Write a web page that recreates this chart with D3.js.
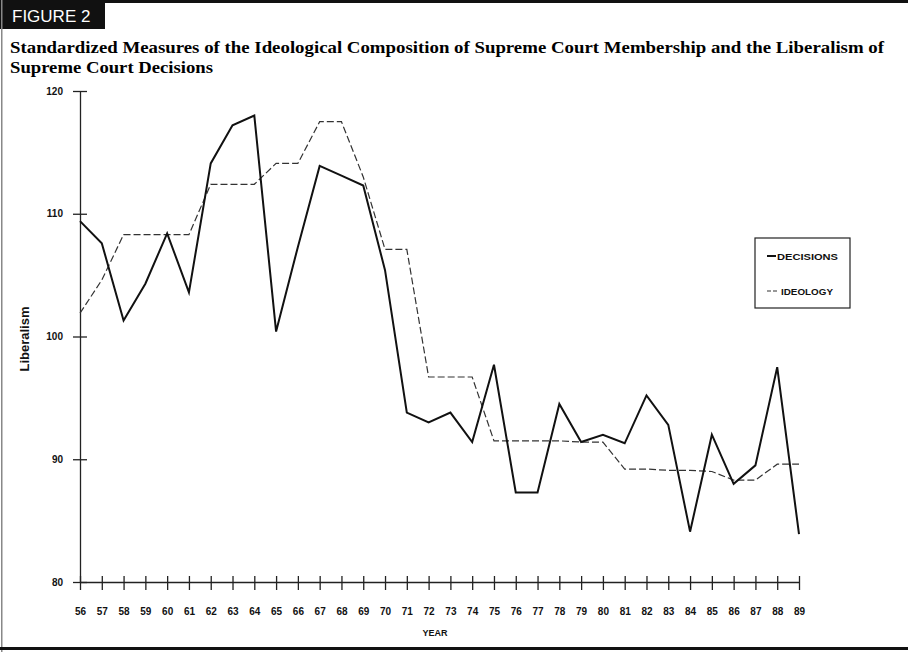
<!DOCTYPE html>
<html>
<head>
<meta charset="utf-8">
<script src="https://cdn.jsdelivr.net/npm/d3@7"></script>
<style>
  body { margin: 0; background: #fff; }
  svg { display: block; }
</style>
</head>
<body>
<div id="chart"></div>
<script>
const years = d3.range(56, 90);
// liberalism of decisions (solid line)
const decisions = [109.4, 107.6, 101.3, 104.3, 108.4, 103.6, 114.1, 117.2, 118.0, 100.4,
  107.3, 113.9, 113.1, 112.3, 105.4, 93.8, 93.0, 93.8, 91.4, 97.7,
  87.3, 87.3, 94.5, 91.4, 92.0, 91.3, 95.2, 92.8, 84.1, 92.0,
  88.0, 89.5, 97.5, 83.9];
// ideological composition (dashed line)
const ideology = [101.9, 104.6, 108.3, 108.3, 108.3, 108.3, 112.4, 112.4, 112.4, 114.1,
  114.1, 117.5, 117.5, 113.0, 107.1, 107.1, 96.7, 96.7, 96.7, 91.5,
  91.5, 91.5, 91.5, 91.4, 91.4, 89.2, 89.2, 89.1, 89.1, 89.0,
  88.3, 88.3, 89.6, 89.6];
const yTicks = [80, 90, 100, 110, 120];

const W = 908, H = 652;
const svg = d3.select("#chart").append("svg")
    .attr("width", W)
    .attr("height", H);

// frame bits from the printed page
svg.append("rect").attr("x", 0).attr("y", 0).attr("width", W).attr("height", 3).attr("fill", "#111");
svg.append("rect").attr("x", 0).attr("y", 0).attr("width", 105).attr("height", 29).attr("fill", "#111");
svg.append("text")
    .attr("x", 12).attr("y", 22)
    .attr("fill", "#fff")
    .attr("font-family", "Liberation Sans, Arial, sans-serif")
    .style("font-size", "17px")
    .text("FIGURE 2");
svg.append("rect").attr("x", 1).attr("y", 0).attr("width", 1.5).attr("height", H).attr("fill", "#888");
svg.append("rect").attr("x", 0).attr("y", 647).attr("width", W).attr("height", 3).attr("fill", "#111");

// title
const title = svg.append("g")
    .attr("font-family", "Liberation Serif, Times New Roman, serif")
    .attr("font-weight", "bold")
    .style("font-size", "17.5px");
title.append("text").attr("x", 10).attr("y", 53)
    .attr("textLength", 874).attr("lengthAdjust", "spacingAndGlyphs")
    .text("Standardized Measures of the Ideological Composition of Supreme Court Membership and the Liberalism of");
title.append("text").attr("x", 10).attr("y", 73)
    .attr("textLength", 203).attr("lengthAdjust", "spacingAndGlyphs")
    .text("Supreme Court Decisions");

const x = d3.scaleLinear().domain([56, 89]).range([80, 799]);
const y = d3.scaleLinear().domain([80, 120]).range([582, 91]);

// axes with crossing ticks
const xAxis = svg.append("g")
    .attr("transform", `translate(0,${y(80)})`)
    .call(d3.axisBottom(x).tickValues(years).tickSize(0).tickFormat(d => d));
xAxis.select(".domain").attr("stroke", "#222").attr("stroke-width", 1.3);
xAxis.selectAll(".tick line").attr("y1", -6).attr("y2", 8).attr("stroke", "#222").attr("stroke-width", 1.3);
xAxis.selectAll(".tick text")
    .attr("y", 26)
    .attr("fill", "#111")
    .attr("font-family", "Liberation Sans, Arial, sans-serif")
    .attr("font-weight", "bold")
    .style("font-size", "10px");

const yAxis = svg.append("g")
    .attr("transform", `translate(${x(56)},0)`)
    .call(d3.axisLeft(y).tickValues(yTicks).tickSize(0).tickFormat(d => d));
yAxis.select(".domain").attr("stroke", "#222").attr("stroke-width", 1.3);
yAxis.selectAll(".tick line").attr("x1", -7).attr("x2", 7).attr("stroke", "#222").attr("stroke-width", 1.3);
yAxis.selectAll(".tick text")
    .attr("x", -17)
    .attr("fill", "#111")
    .attr("font-family", "Liberation Sans, Arial, sans-serif")
    .attr("font-weight", "bold")
    .style("font-size", "10px");

svg.append("text")
    .attr("transform", `translate(29,339) rotate(-90)`)
    .attr("text-anchor", "middle")
    .attr("font-family", "Liberation Sans, Arial, sans-serif")
    .attr("font-weight", "bold")
    .style("font-size", "13px")
    .attr("fill", "#111")
    .text("Liberalism");

svg.append("text")
    .attr("x", 435).attr("y", 636)
    .attr("text-anchor", "middle")
    .attr("font-family", "Liberation Sans, Arial, sans-serif")
    .attr("font-weight", "bold")
    .style("font-size", "9px")
    .attr("fill", "#111")
    .text("YEAR");

// lines
const line = d3.line().x((d, i) => x(years[i])).y(d => y(d));

svg.append("path")
    .datum(ideology)
    .attr("d", line)
    .attr("fill", "none")
    .attr("stroke", "#333")
    .attr("stroke-width", 1.2)
    .attr("stroke-dasharray", "7,3");

svg.append("path")
    .datum(decisions)
    .attr("d", line)
    .attr("fill", "none")
    .attr("stroke", "#111")
    .attr("stroke-width", 2)
    .attr("stroke-linejoin", "miter");

// legend
const legend = svg.append("g");
legend.append("rect")
    .attr("x", 755).attr("y", 238).attr("width", 95).attr("height", 70)
    .attr("fill", "#fff").attr("stroke", "#222").attr("stroke-width", 1.2);
legend.append("line")
    .attr("x1", 767).attr("x2", 776).attr("y1", 256).attr("y2", 256)
    .attr("stroke", "#111").attr("stroke-width", 2);
legend.append("line")
    .attr("x1", 767).attr("x2", 777).attr("y1", 291).attr("y2", 291)
    .attr("stroke", "#333").attr("stroke-width", 1.2).attr("stroke-dasharray", "4,2");
legend.selectAll("text.lab")
    .data([["DECISIONS", 777, 260, 61], ["IDEOLOGY", 781, 295, 52]])
    .join("text")
    .attr("class", "lab")
    .attr("x", d => d[1]).attr("y", d => d[2])
    .attr("textLength", d => d[3]).attr("lengthAdjust", "spacingAndGlyphs")
    .attr("font-family", "Liberation Sans, Arial, sans-serif")
    .attr("font-weight", "bold")
    .style("font-size", "9px")
    .attr("fill", "#111")
    .text(d => d[0]);
</script>
</body>
</html>
